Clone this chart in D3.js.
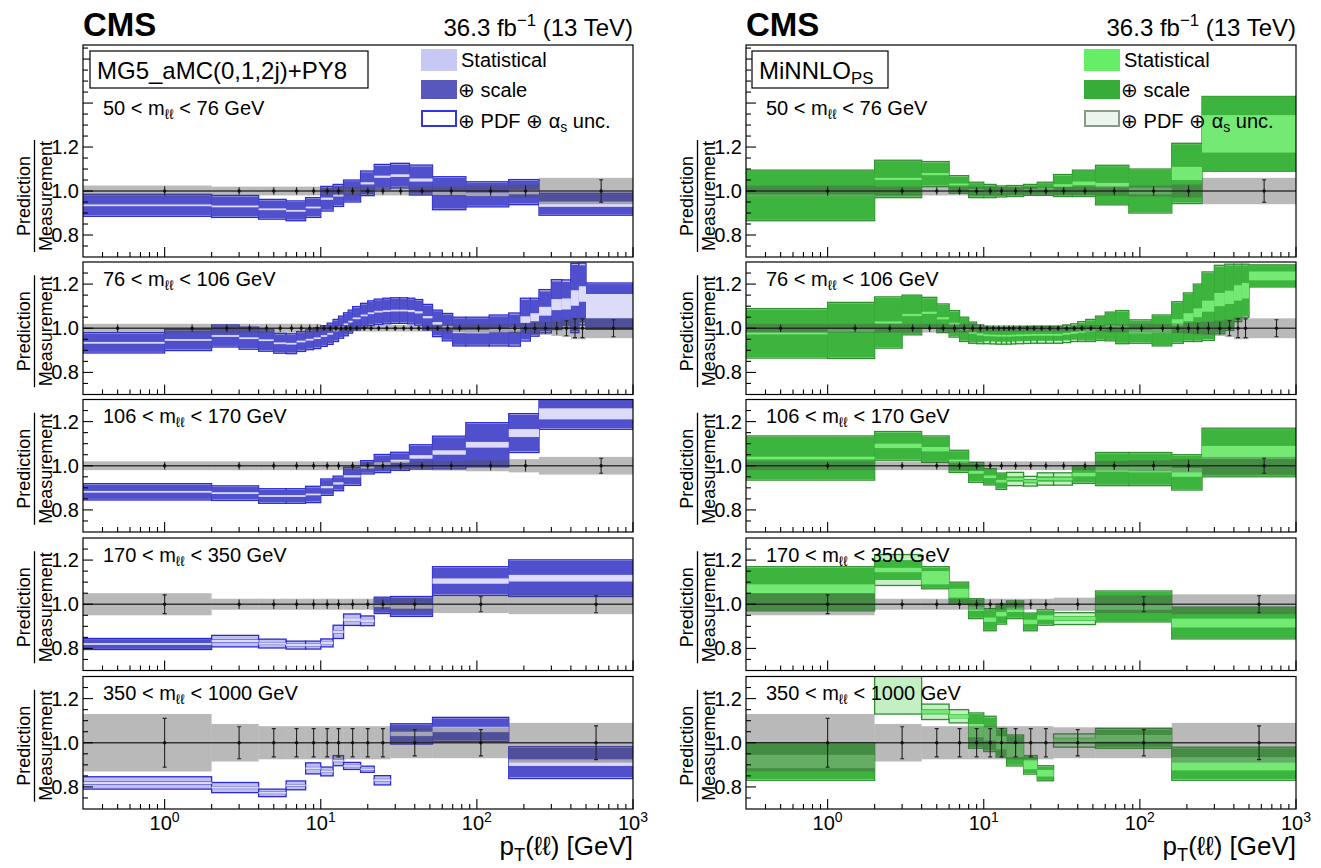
<!DOCTYPE html>
<html><head><meta charset="utf-8">
<script src="https://cdn.jsdelivr.net/npm/d3@7"></script>
<style>body{margin:0;background:#fff}svg{display:block}text{font-family:"Liberation Sans",Arial,Helvetica,sans-serif;fill:#000}</style>
</head><body><svg id="c" width="1321" height="868"></svg>
<script>
// ---------------- DATA ----------------
const massLow = [50, 76, 106, 170, 350];
const massHigh = [76, 106, 170, 350, 1000];
const xTickValues = [1, 10, 100, 1000];
const xTickExponents = ["0", "1", "2", "3"];
const yTickLabels = [0.8, 1.0, 1.2];

const ptEdgesCoarse = [0, 2, 4, 6, 8, 10, 12, 14, 18, 22, 28, 37, 52, 85, 160, 250, 1000];
const ptEdgesZ = [0,1,2,3,4,5,6,7,8,9,10,11,12,13,14,15,16,18,20,22,25,28,32,36,40,45,52,60,70,85,120,160,190,220,250,300,350,400,450,500,1000];
const ptEdgesHigh = [0, 2, 4, 6, 8, 10, 12, 14, 18, 22, 28, 52, 160, 1000];

// measurement relative uncertainty (half width)
const meas_50_76 = [0.025,0.02,0.02,0.02,0.02,0.02,0.02,0.02,0.02,0.02,0.02,0.02,0.022,0.025,0.03,0.06];
const meas_76_106 = [0.02,0.02,0.02,0.02,0.02,0.02,0.02,0.02,0.02,0.02,
  0.015,0.015,0.015,0.015,0.015,0.015,0.015,0.015,0.015,0.015,
  0.015,0.015,0.015,0.015,0.015,0.015,0.015,0.018,0.018,0.02,
  0.02,0.022,0.025,0.028,0.03,0.035,0.04,0.05,0.05,0.045];
const meas_106_170 = [0.02,0.02,0.02,0.02,0.02,0.02,0.02,0.02,0.02,0.02,0.02,0.02,0.022,0.025,0.03,0.04];
const meas_170_350 = [0.05,0.025,0.025,0.025,0.025,0.025,0.025,0.025,0.025,0.025,0.03,0.04,0.045];
const meas_350_1000 = [0.13,0.085,0.075,0.075,0.075,0.075,0.075,0.075,0.075,0.075,0.07,0.07,0.09];

// MG5_aMC(0,1,2j)+PY8
const mg5_ratio_50_76 = [0.935,0.93,0.917,0.91,0.925,0.965,0.98,1.0,1.035,1.065,1.07,1.05,0.99,0.985,0.995,0.94];
const mg5_pdf_50_76   = [0.05,0.05,0.045,0.045,0.045,0.056,0.05,0.05,0.056,0.056,0.056,0.068,0.075,0.057,0.057,0.05];
const mg5_scale_50_76 = [0.045,0.045,0.04,0.04,0.04,0.05,0.045,0.045,0.05,0.05,0.05,0.062,0.07,0.052,0.052,0.046];
const mg5_stat_50_76  = [0.004,0.004,0.004,0.004,0.004,0.005,0.005,0.005,0.005,0.005,0.006,0.007,0.008,0.008,0.01,0.012];

const mg5_ratio_76_106 = [0.934,0.947,0.965,0.955,0.946,0.932,0.93,0.94,0.948,0.955,
  0.965,0.975,0.99,1.005,1.018,1.03,1.045,1.058,1.068,1.075,
  1.078,1.08,1.08,1.078,1.072,1.05,1.022,1.005,0.985,0.985,
  0.99,0.994,1.039,1.05,1.077,1.107,1.11,1.137,1.155,1.10];
const mg5_pdf_76_106 = [0.046,0.048,0.05,0.05,0.05,0.045,0.045,0.045,0.045,0.047,
  0.047,0.048,0.05,0.05,0.052,0.052,0.053,0.055,0.056,0.057,
  0.058,0.058,0.058,0.058,0.058,0.058,0.06,0.062,0.065,0.065,
  0.07,0.075,0.097,0.086,0.098,0.113,0.109,0.157,0.14,0.105];
const mg5_scale_76_106 = [0.041,0.043,0.045,0.045,0.045,0.04,0.04,0.04,0.04,0.042,
  0.042,0.043,0.045,0.045,0.047,0.047,0.048,0.05,0.051,0.052,
  0.053,0.053,0.053,0.053,0.053,0.053,0.055,0.057,0.06,0.06,
  0.064,0.068,0.09,0.08,0.09,0.105,0.1,0.15,0.13,0.1];
const mg5_stat_76_106 = [0.004,0.004,0.004,0.004,0.004,0.004,0.004,0.004,0.004,0.004,
  0.004,0.004,0.004,0.004,0.004,0.004,0.004,0.004,0.004,0.004,
  0.004,0.004,0.004,0.005,0.005,0.005,0.006,0.006,0.007,0.008,
  0.008,0.01,0.015,0.018,0.02,0.025,0.025,0.035,0.035,0.055];

const mg5_ratio_106_170 = [0.882,0.876,0.863,0.863,0.87,0.903,0.92,0.952,0.993,1.01,1.02,1.04,1.06,1.095,1.148,1.235];
const mg5_pdf_106_170   = [0.037,0.033,0.033,0.033,0.037,0.037,0.033,0.041,0.03,0.041,0.041,0.055,0.074,0.1,0.088,0.07];
const mg5_scale_106_170 = [0.032,0.028,0.028,0.028,0.032,0.032,0.028,0.036,0.025,0.036,0.036,0.05,0.069,0.095,0.082,0.064];
const mg5_stat_106_170  = [0.004,0.004,0.004,0.004,0.004,0.005,0.005,0.005,0.006,0.006,0.007,0.008,0.01,0.013,0.018,0.025];

const mg5_ratio_170_350 = [0.82,0.833,0.822,0.815,0.815,0.825,0.875,0.93,0.925,0.995,0.99,1.105,1.118];
const mg5_pdf_170_350   = [0.025,0.026,0.02,0.018,0.018,0.018,0.03,0.026,0.022,0.037,0.045,0.065,0.083];
const mg5_scale_170_350 = [0.022,0.008,0.007,0.007,0.007,0.007,0.008,0.008,0.008,0.033,0.04,0.06,0.078];
const mg5_stat_170_350  = [0.004,0.005,0.005,0.005,0.005,0.006,0.006,0.007,0.007,0.008,0.01,0.012,0.015];

const mg5_ratio_350_1000 = [0.818,0.797,0.773,0.807,0.884,0.87,0.919,0.895,0.88,0.83,1.04,1.06,0.91];
const mg5_pdf_350_1000   = [0.028,0.023,0.017,0.02,0.025,0.02,0.023,0.016,0.014,0.021,0.046,0.055,0.072];
const mg5_scale_350_1000 = [0.008,0.007,0.006,0.006,0.007,0.007,0.007,0.006,0.006,0.007,0.042,0.05,0.066];
const mg5_stat_350_1000  = [0.005,0.005,0.004,0.004,0.005,0.005,0.005,0.004,0.004,0.005,0.01,0.012,0.015];

// MiNNLO_PS
const mn_ratio_50_76 = [0.98,1.055,1.077,1.03,1.005,1.0,0.998,1.0,1.005,1.01,1.025,1.035,1.027,1.0,1.08,1.26];
const mn_pdf_50_76   = [0.115,0.085,0.057,0.04,0.035,0.03,0.025,0.025,0.025,0.03,0.05,0.06,0.09,0.1,0.137,0.17];
const mn_scale_50_76 = [0.111,0.081,0.053,0.036,0.031,0.026,0.021,0.021,0.021,0.026,0.046,0.056,0.086,0.096,0.133,0.17];
const mn_stat_50_76  = [0.004,0.005,0.005,0.004,0.004,0.004,0.004,0.004,0.004,0.005,0.006,0.008,0.01,0.015,0.03,0.085];

const mn_ratio_76_106 = [0.977,0.99,1.026,1.06,1.07,1.045,1.02,0.995,0.98,0.972,
  0.968,0.967,0.966,0.966,0.966,0.967,0.968,0.969,0.97,0.97,
  0.97,0.97,0.975,0.98,0.985,0.99,1.0,1.008,1.005,0.985,
  0.99,1.026,1.05,1.07,1.1,1.13,1.14,1.16,1.17,1.237];
const mn_pdf_76_106 = [0.112,0.127,0.116,0.09,0.07,0.065,0.06,0.055,0.048,0.042,
  0.038,0.038,0.038,0.038,0.038,0.038,0.038,0.038,0.038,0.038,
  0.038,0.038,0.04,0.04,0.045,0.05,0.055,0.065,0.075,0.053,
  0.07,0.094,0.11,0.13,0.155,0.155,0.15,0.13,0.12,0.05];
const mn_scale_76_106 = [0.108,0.123,0.112,0.086,0.066,0.061,0.056,0.051,0.044,0.036,
  0.027,0.027,0.027,0.027,0.027,0.027,0.027,0.027,0.027,0.027,
  0.027,0.027,0.03,0.032,0.04,0.046,0.051,0.061,0.071,0.049,
  0.066,0.09,0.106,0.126,0.15,0.15,0.145,0.125,0.115,0.05];
const mn_stat_76_106 = [0.005,0.005,0.005,0.005,0.005,0.005,0.005,0.005,0.005,0.005,
  0.004,0.004,0.004,0.004,0.004,0.004,0.004,0.004,0.004,0.004,
  0.004,0.004,0.004,0.005,0.005,0.005,0.006,0.006,0.007,0.008,
  0.01,0.015,0.018,0.02,0.025,0.03,0.03,0.035,0.035,0.02];

const mn_ratio_106_170 = [1.035,1.09,1.075,1.02,0.97,0.95,0.93,0.94,0.93,0.94,0.94,0.96,0.985,0.985,0.97,1.06];
const mn_pdf_106_170   = [0.1,0.065,0.06,0.05,0.045,0.037,0.037,0.03,0.022,0.028,0.028,0.04,0.075,0.075,0.08,0.11];
const mn_scale_106_170 = [0.096,0.061,0.056,0.046,0.041,0.033,0.033,0.012,0.01,0.012,0.012,0.036,0.071,0.071,0.076,0.106];
const mn_stat_106_170  = [0.006,0.01,0.01,0.008,0.006,0.006,0.006,0.005,0.005,0.005,0.006,0.008,0.012,0.015,0.02,0.03];

const mn_ratio_170_350 = [1.07,1.155,1.12,1.05,0.98,0.93,0.955,0.975,0.92,0.94,0.935,0.99,0.915];
const mn_pdf_170_350   = [0.1,0.07,0.05,0.05,0.045,0.05,0.045,0.04,0.04,0.035,0.027,0.07,0.072];
const mn_scale_170_350 = [0.096,0.045,0.046,0.046,0.041,0.046,0.041,0.036,0.036,0.031,0.011,0.066,0.068];
const mn_stat_170_350  = [0.02,0.01,0.03,0.02,0.01,0.01,0.01,0.01,0.01,0.01,0.008,0.015,0.02];

const mn_ratio_350_1000 = [0.915,1.23,1.14,1.12,1.055,1.04,1.0,0.965,0.9,0.862,1.01,1.02,0.905];
const mn_pdf_350_1000   = [0.085,0.1,0.035,0.03,0.08,0.08,0.065,0.07,0.042,0.034,0.03,0.045,0.075];
const mn_scale_350_1000 = [0.08,0.0,0.012,0.01,0.075,0.075,0.06,0.065,0.038,0.03,0.013,0.04,0.07];
const mn_stat_350_1000  = [0.03,0.0,0.008,0.008,0.03,0.03,0.03,0.03,0.02,0.015,0.01,0.015,0.03];

// ---------------- LAYOUT ----------------
const edgesByMass = [ptEdgesCoarse, ptEdgesZ, ptEdgesCoarse, ptEdgesHigh, ptEdgesHigh];
const measByMass = [meas_50_76, meas_76_106, meas_106_170, meas_170_350, meas_350_1000];
const generators = [
  { ratio:[mg5_ratio_50_76,mg5_ratio_76_106,mg5_ratio_106_170,mg5_ratio_170_350,mg5_ratio_350_1000],
    pdf:[mg5_pdf_50_76,mg5_pdf_76_106,mg5_pdf_106_170,mg5_pdf_170_350,mg5_pdf_350_1000],
    scale:[mg5_scale_50_76,mg5_scale_76_106,mg5_scale_106_170,mg5_scale_170_350,mg5_scale_350_1000],
    stat:[mg5_stat_50_76,mg5_stat_76_106,mg5_stat_106_170,mg5_stat_170_350,mg5_stat_350_1000],
    pdfFill:"#bfbff2", pdfStroke:"#2a2ad2", scaleFill:"#5050cc", statFill:"#dcdcfa",
    legStat:"#c8c8f4", legScale:"#5858bc", legPdfStroke:"#3434e0", legPdfFill:"#ffffff" },
  { ratio:[mn_ratio_50_76,mn_ratio_76_106,mn_ratio_106_170,mn_ratio_170_350,mn_ratio_350_1000],
    pdf:[mn_pdf_50_76,mn_pdf_76_106,mn_pdf_106_170,mn_pdf_170_350,mn_pdf_350_1000],
    scale:[mn_scale_50_76,mn_scale_76_106,mn_scale_106_170,mn_scale_170_350,mn_scale_350_1000],
    stat:[mn_stat_50_76,mn_stat_76_106,mn_stat_106_170,mn_stat_170_350,mn_stat_350_1000],
    pdfFill:"#c4efc4", pdfStroke:"#2e8e2e", scaleFill:"#3db43d", statFill:"#74ea74",
    legStat:"#66ee66", legScale:"#38ac38", legPdfStroke:"#8a9a8a", legPdfFill:"#edf3ed" }
];
const colX0 = [83, 746], colX1 = [633, 1296];
const panelTop = [45, 262, 399.5, 538, 676.5];
const panelBot = [257, 394.5, 532, 670.5, 809];
const panelYMax = [1.664, 1.3, 1.3, 1.3, 1.3];

const svg = d3.select("#c");
svg.append("rect").attr("width",1321).attr("height",868).attr("fill","#fff");
const defs = svg.append("defs");
const FS = 20;

function rich(t, parts, base) {
  let shift = 0;
  parts.forEach(([s, k]) => {
    const ts = t.append("tspan").text(s);
    const target = k === "sub" ? base*0.22 : k === "sup" ? -base*0.42 : 0;
    ts.attr("dy", target - shift); shift = target;
    if (k !== "n") ts.attr("font-size", base*0.7);
  });
}

for (let c = 0; c < 2; c++) {
  const gen = generators[c];
  const x = d3.scaleLog().domain([0.3, 1000]).range([colX0[c], colX1[c]]);
  const off = colX0[c] - 83;

  // header
  svg.append("text").attr("x", colX0[c]).attr("y", 36).attr("font-size", 33).attr("font-weight", "bold").text("CMS");
  const lumi = svg.append("text").attr("x", colX1[c]).attr("y", 36).attr("font-size", 24).attr("text-anchor", "end");
  rich(lumi, [["36.3 fb","n"],["\u22121","sup"],[" (13 TeV)","n"]], 24);

  for (let m = 0; m < 5; m++) {
    const top = panelTop[m], bot = panelBot[m];
    const y = d3.scaleLinear().domain([0.7, panelYMax[m]]).range([bot, top]);
    const edges = edgesByMass[m];
    const bins = edges.slice(0, -1).map((lo, i) => ({
      lo: Math.max(lo, 0.3), hi: edges[i+1], mid: (lo + edges[i+1]) / 2,
      r: gen.ratio[m][i], pd: gen.pdf[m][i], sc: gen.scale[m][i], st: gen.stat[m][i], me: measByMass[m][i]
    }));
    const cid = `clip${c}_${m}`;
    defs.append("clipPath").attr("id", cid).append("rect")
      .attr("x", colX0[c]).attr("y", top).attr("width", colX1[c]-colX0[c]).attr("height", bot-top);
    const g = svg.append("g").attr("clip-path", `url(#${cid})`);

    const band = (key, fill, stroke) => g.append("g").selectAll("rect").data(bins.filter(d => d[key] > 0)).join("rect")
      .attr("x", d => x(d.lo)).attr("width", d => x(d.hi) - x(d.lo))
      .attr("y", d => y(d.r + d[key])).attr("height", d => y(d.r - d[key]) - y(d.r + d[key]))
      .attr("fill", fill).attr("stroke", stroke || "none").attr("stroke-width", stroke ? 1.3 : 0);
    band("pd", gen.pdfFill, gen.pdfStroke);
    band("sc", gen.scaleFill);
    band("st", gen.statFill);

    // measurement band
    g.append("g").selectAll("rect").data(bins).join("rect")
      .attr("x", d => x(d.lo)).attr("width", d => x(d.hi) - x(d.lo))
      .attr("y", d => y(1 + d.me)).attr("height", d => y(1 - d.me) - y(1 + d.me))
      .attr("fill", "#505050").attr("fill-opacity", 0.4);
    g.append("line").attr("x1", colX0[c]).attr("x2", colX1[c]).attr("y1", y(1)).attr("y2", y(1))
      .attr("stroke", "#1e1e1e").attr("stroke-width", 1.7).attr("stroke-opacity", 0.85);
    const eb = g.append("g").attr("stroke", "#222").attr("stroke-width", 1.1);
    bins.forEach(d => {
      const xc = x(d.mid), e = d.me * 0.85;
      eb.append("line").attr("x1", xc).attr("x2", xc).attr("y1", y(1+e)).attr("y2", y(1-e));
      if (y(1-e) - y(1+e) > 14) {
        eb.append("line").attr("x1", xc-2).attr("x2", xc+2).attr("y1", y(1+e)).attr("y2", y(1+e));
        eb.append("line").attr("x1", xc-2).attr("x2", xc+2).attr("y1", y(1-e)).attr("y2", y(1-e));
      }
      g.append("circle").attr("cx", xc).attr("cy", y(1)).attr("r", 1.7).attr("fill", "#111");
    });

    // frame
    svg.append("rect").attr("x", colX0[c]).attr("y", top).attr("width", colX1[c]-colX0[c]).attr("height", bot-top)
      .attr("fill", "none").attr("stroke", "#000").attr("stroke-width", 1.2);

    // x ticks
    const tk = svg.append("g").attr("stroke", "#000").attr("stroke-width", 1.1);
    const minors = [];
    [0.1, 1, 10, 100].forEach(d => { for (let k = 2; k <= 9; k++) { const v = k*d; if (v > 0.35 && v < 1000) minors.push(v); } });
    minors.forEach(v => tk.append("line").attr("x1", x(v)).attr("x2", x(v)).attr("y1", bot).attr("y2", bot - 5));
    xTickValues.forEach(v => tk.append("line").attr("x1", x(v)).attr("x2", x(v)).attr("y1", bot).attr("y2", bot - 10));
    // y ticks
    for (let v = 0.75; v < panelYMax[m] - 0.001; v += 0.05) {
      const vv = Math.round(v*100)/100;
      const major = Math.abs(vv*5 - Math.round(vv*5)) < 1e-6;
      tk.append("line").attr("x1", colX0[c]).attr("x2", colX0[c] + (major ? 10 : 5)).attr("y1", y(vv)).attr("y2", y(vv));
    }
    yTickLabels.forEach(v => svg.append("text").attr("x", colX0[c] - 4).attr("y", y(v) + 7)
      .attr("text-anchor", "end").attr("font-size", FS).text(v.toFixed(1)));

    // y title
    const yc = m === 0 ? 196 : (top + bot) / 2 + 3;
    svg.append("text").attr("transform", `translate(${30+off},${yc}) rotate(-90)`).attr("text-anchor", "middle").attr("font-size", 18).text("Prediction");
    svg.append("line").attr("x1", 34.5+off).attr("x2", 34.5+off).attr("y1", yc-56).attr("y2", yc+56).attr("stroke", "#000").attr("stroke-width", 1.3);
    svg.append("text").attr("transform", `translate(${52+off},${yc}) rotate(-90)`).attr("text-anchor", "middle").attr("font-size", 18).text("Measurement");

    // mass label
    const ml = svg.append("text").attr("x", colX0[c] + 20).attr("y", top + (m === 0 ? 70 : 23.5)).attr("font-size", FS);
    rich(ml, [[`${massLow[m]} < m`,"n"],["\u2113\u2113","sub"],[` < ${massHigh[m]} GeV`,"n"]], FS);

    if (m === 4) {
      xTickValues.forEach((v, i) => {
        const t = svg.append("text").attr("x", x(v)).attr("y", bot + 21).attr("text-anchor", "middle").attr("font-size", FS);
        rich(t, [["10","n"],[xTickExponents[i],"sup"]], FS);
      });
      const xt = svg.append("text").attr("x", colX1[c]).attr("y", 855).attr("text-anchor", "end").attr("font-size", 26);
      rich(xt, [["p","n"],["T","sub"],["(\u2113\u2113) [GeV]","n"]], 26);
    }
  }

  // generator label
  if (c === 0) {
    svg.append("rect").attr("x", 90).attr("y", 51).attr("width", 278).attr("height", 37).attr("fill", "#fff").attr("stroke", "#000").attr("stroke-width", 1.2);
    svg.append("text").attr("x", 97).attr("y", 79).attr("font-size", 24).text("MG5_aMC(0,1,2j)+PY8");
  } else {
    svg.append("rect").attr("x", 752).attr("y", 51).attr("width", 136).attr("height", 37).attr("fill", "#fff").attr("stroke", "#000").attr("stroke-width", 1.2);
    const gt = svg.append("text").attr("x", 759).attr("y", 79).attr("font-size", 24);
    rich(gt, [["MiNNLO","n"],["PS","sub"]], 24);
  }

  // legend
  const lx = 421 + off;
  svg.append("rect").attr("x", lx).attr("y", 49).attr("width", 36).attr("height", 22).attr("fill", gen.legStat);
  svg.append("rect").attr("x", lx).attr("y", 80).attr("width", 36).attr("height", 19).attr("fill", gen.legScale);
  svg.append("rect").attr("x", lx+1).attr("y", 111).attr("width", 34).attr("height", 15).attr("fill", gen.legPdfFill)
    .attr("stroke", gen.legPdfStroke).attr("stroke-width", 2);
  svg.append("text").attr("x", lx + 40).attr("y", 67).attr("font-size", FS).text("Statistical");
  svg.append("text").attr("x", lx + 37).attr("y", 97).attr("font-size", FS).text("\u2295 scale");
  const lt = svg.append("text").attr("x", lx + 37).attr("y", 128).attr("font-size", FS);
  rich(lt, [["\u2295 PDF \u2295 \u03b1","n"],["s","sub"],[" unc.","n"]], FS);
}
</script></body></html>
